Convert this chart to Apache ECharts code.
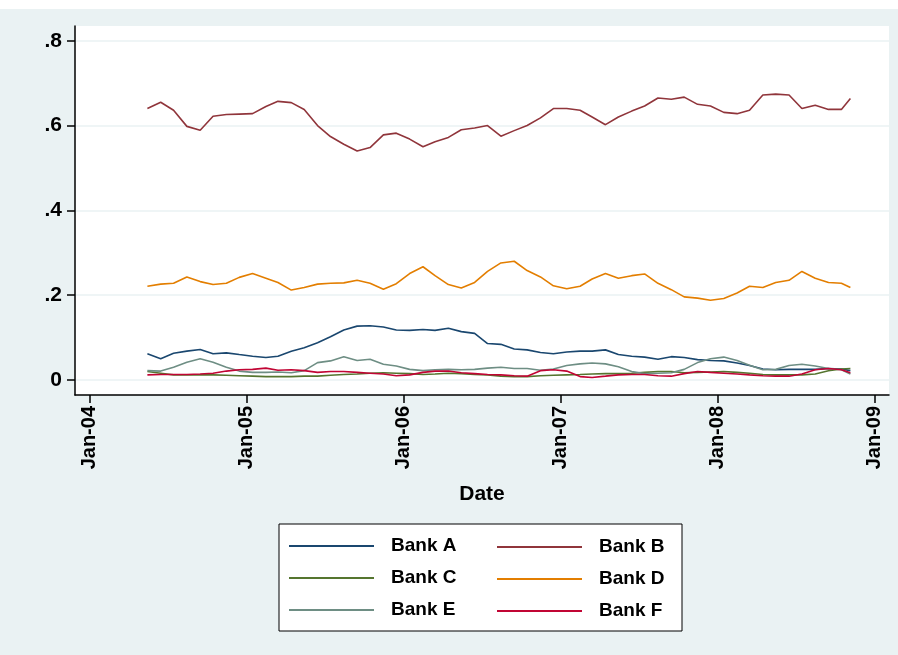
<!DOCTYPE html>
<html>
<head>
<meta charset="utf-8">
<script src="https://cdn.jsdelivr.net/npm/echarts@6/dist/echarts.min.js"></script>
<style>
  html, body { margin: 0; padding: 0; background: #fff; }
  #main { width: 898px; height: 655px; }
</style>
</head>
<body>
<div id="main"></div>
<script>
// observation dates (mid-month, last one early Nov 2008)
var dates = [
  '2004-05-15','2004-06-15','2004-07-15','2004-08-15','2004-09-15','2004-10-15','2004-11-15','2004-12-15',
  '2005-01-15','2005-02-15','2005-03-15','2005-04-15','2005-05-15','2005-06-15','2005-07-15','2005-08-15','2005-09-15','2005-10-15','2005-11-15','2005-12-15',
  '2006-01-15','2006-02-15','2006-03-15','2006-04-15','2006-05-15','2006-06-15','2006-07-15','2006-08-15','2006-09-15','2006-10-15','2006-11-15','2006-12-15',
  '2007-01-15','2007-02-15','2007-03-15','2007-04-15','2007-05-15','2007-06-15','2007-07-15','2007-08-15','2007-09-15','2007-10-15','2007-11-15','2007-12-15',
  '2008-01-15','2008-02-15','2008-03-15','2008-04-15','2008-05-15','2008-06-15','2008-07-15','2008-08-15','2008-09-15','2008-10-15','2008-11-05'
];

var bankA = [0.062,0.050,0.063,0.068,0.072,0.062,0.064,0.060,
  0.056,0.053,0.056,0.068,0.076,0.088,0.102,0.118,0.127,0.128,0.125,0.118,
  0.117,0.119,0.117,0.122,0.114,0.110,0.086,0.084,0.073,0.071,0.065,0.062,
  0.066,0.068,0.068,0.071,0.060,0.056,0.054,0.049,0.055,0.053,0.048,0.046,
  0.045,0.040,0.034,0.026,0.024,0.025,0.025,0.025,0.027,0.026,0.022];
var bankB = [0.640,0.655,0.636,0.598,0.589,0.622,0.626,0.627,
  0.628,0.645,0.657,0.654,0.638,0.600,0.574,0.556,0.540,0.548,0.578,0.582,
  0.568,0.550,0.562,0.572,0.590,0.594,0.600,0.575,0.588,0.600,0.618,0.640,
  0.640,0.636,0.620,0.602,0.620,0.634,0.646,0.665,0.662,0.667,0.650,0.646,
  0.631,0.628,0.636,0.672,0.674,0.672,0.640,0.648,0.638,0.638,0.664];
var bankC = [0.020,0.016,0.012,0.012,0.012,0.012,0.011,0.010,
  0.009,0.008,0.008,0.008,0.009,0.009,0.011,0.013,0.014,0.016,0.017,0.016,
  0.015,0.013,0.014,0.016,0.015,0.013,0.012,0.009,0.008,0.008,0.010,0.011,
  0.012,0.013,0.014,0.015,0.015,0.016,0.018,0.020,0.020,0.017,0.018,0.019,
  0.020,0.018,0.016,0.013,0.012,0.012,0.012,0.014,0.022,0.026,0.027];
var bankD = [0.221,0.226,0.228,0.243,0.232,0.225,0.228,0.242,
  0.251,0.240,0.230,0.212,0.218,0.226,0.228,0.229,0.235,0.228,0.214,0.227,
  0.251,0.267,0.246,0.225,0.217,0.230,0.256,0.276,0.280,0.258,0.243,0.222,
  0.215,0.221,0.238,0.251,0.240,0.246,0.250,0.228,0.213,0.196,0.193,0.188,
  0.192,0.205,0.221,0.218,0.230,0.235,0.256,0.240,0.230,0.228,0.218];
var bankE = [0.022,0.021,0.030,0.042,0.050,0.042,0.030,0.021,
  0.018,0.018,0.019,0.017,0.022,0.041,0.045,0.055,0.046,0.049,0.037,0.033,
  0.025,0.022,0.024,0.025,0.024,0.025,0.028,0.030,0.027,0.027,0.023,0.026,
  0.034,0.038,0.040,0.038,0.031,0.020,0.015,0.016,0.017,0.025,0.041,0.050,
  0.054,0.046,0.035,0.024,0.025,0.034,0.037,0.033,0.027,0.024,0.014];
var bankF = [0.012,0.013,0.013,0.013,0.014,0.016,0.021,0.024,
  0.025,0.028,0.023,0.024,0.022,0.018,0.020,0.020,0.018,0.016,0.014,0.010,
  0.012,0.018,0.021,0.021,0.017,0.015,0.013,0.012,0.010,0.009,0.022,0.024,
  0.021,0.008,0.006,0.009,0.012,0.013,0.013,0.010,0.009,0.015,0.020,0.018,
  0.016,0.014,0.012,0.010,0.009,0.009,0.014,0.024,0.027,0.024,0.017];

var xTicks = [2004, 2005, 2006, 2007, 2008, 2009];
var xTickLabels = ['Jan-04', 'Jan-05', 'Jan-06', 'Jan-07', 'Jan-08', 'Jan-09'];
var yTicks = [0, 0.2, 0.4, 0.6, 0.8];
var yTickLabels = ['0', '.2', '.4', '.6', '.8'];

var names = ['Bank A', 'Bank B', 'Bank C', 'Bank D', 'Bank E', 'Bank F'];
var colors = ['#1a476f', '#90353b', '#55752f', '#e37e00', '#6e8e84', '#c10534'];
var values = [bankA, bankB, bankC, bankD, bankE, bankF];

// date string -> decimal year
function toYear(s) {
  var p = s.split('-');
  var y = +p[0];
  var t = Date.UTC(y, +p[1] - 1, +p[2]);
  var t0 = Date.UTC(y, 0, 1), t1 = Date.UTC(y + 1, 0, 1);
  return y + (t - t0) / (t1 - t0);
}
var xs = dates.map(toYear);

var font = 'Liberation Sans, Arial, sans-serif';

var series = names.map(function (n, i) {
  return {
    name: n,
    type: 'line',
    symbol: 'none',
    lineStyle: { width: 1.6, color: colors[i] },
    itemStyle: { color: colors[i] },
    data: xs.map(function (x, k) { return [x, values[i][k]]; })
  };
});

var legendText = { color: '#000', fontSize: 19, fontWeight: 'bold', fontFamily: font, width: 75, lineHeight: 22, padding: [0, 0, 0, 12] };

var myChart = echarts.init(document.getElementById('main'));
var option = {
  backgroundColor: '#eaf2f3',
  animation: false,
  color: colors,
  graphic: [{
    type: 'rect', left: 0, top: 0, shape: { width: 898, height: 9 },
    style: { fill: '#ffffff' }
  }],
  grid: {
    left: 75, right: 9, top: 26, bottom: 260,
    show: true, backgroundColor: '#ffffff', borderWidth: 0
  },
  xAxis: {
    type: 'value',
    min: 2003.908, max: 2009.09,
    name: 'Date',
    nameLocation: 'middle',
    nameGap: 89,
    nameTextStyle: { color: '#000', fontSize: 21, fontWeight: 'bold', fontFamily: font },
    axisLine: { show: true, onZero: false, lineStyle: { color: '#000', width: 1.5 } },
    axisTick: { show: true, length: 8, customValues: xTicks, lineStyle: { color: '#000', width: 1.5 } },
    axisLabel: {
      rotate: 90, margin: 11, color: '#000', fontSize: 20, fontWeight: 'bold', fontFamily: font,
      customValues: xTicks,
      formatter: function (v) { return xTickLabels[xTicks.indexOf(Math.round(v))]; }
    },
    splitLine: { show: false }
  },
  yAxis: {
    type: 'value',
    min: -0.0354, max: 0.8347,
    axisLine: { show: true, onZero: false, lineStyle: { color: '#000', width: 1.5 } },
    axisTick: { show: true, length: 8, customValues: yTicks, lineStyle: { color: '#000', width: 1.5 } },
    axisLabel: {
      margin: 13, color: '#000', fontSize: 21, fontWeight: 'bold', fontFamily: font,
      customValues: yTicks,
      formatter: function (v) {
        for (var i = 0; i < yTicks.length; i++) if (Math.abs(yTicks[i] - v) < 1e-6) return yTickLabels[i];
        return '';
      }
    },
    splitLine: { show: true, lineStyle: { color: '#eaf2f3', width: 1.5 } }
  },
  legend: [{
    orient: 'vertical',
    left: 279, top: 524,
    data: ['Bank A', 'Bank C', 'Bank E'],
    backgroundColor: '#ffffff',
    borderColor: '#000', borderWidth: 1,
    padding: [11, 216, 10, 10],
    icon: 'rect',
    itemWidth: 85, itemHeight: 2, itemGap: 10,
    textStyle: legendText
  }, {
    orient: 'vertical',
    left: 497, top: 536,
    data: ['Bank B', 'Bank D', 'Bank F'],
    padding: 0,
    icon: 'rect',
    itemWidth: 85, itemHeight: 2, itemGap: 10,
    textStyle: legendText
  }],
  series: series
};
myChart.setOption(option);
</script>
</body>
</html>
